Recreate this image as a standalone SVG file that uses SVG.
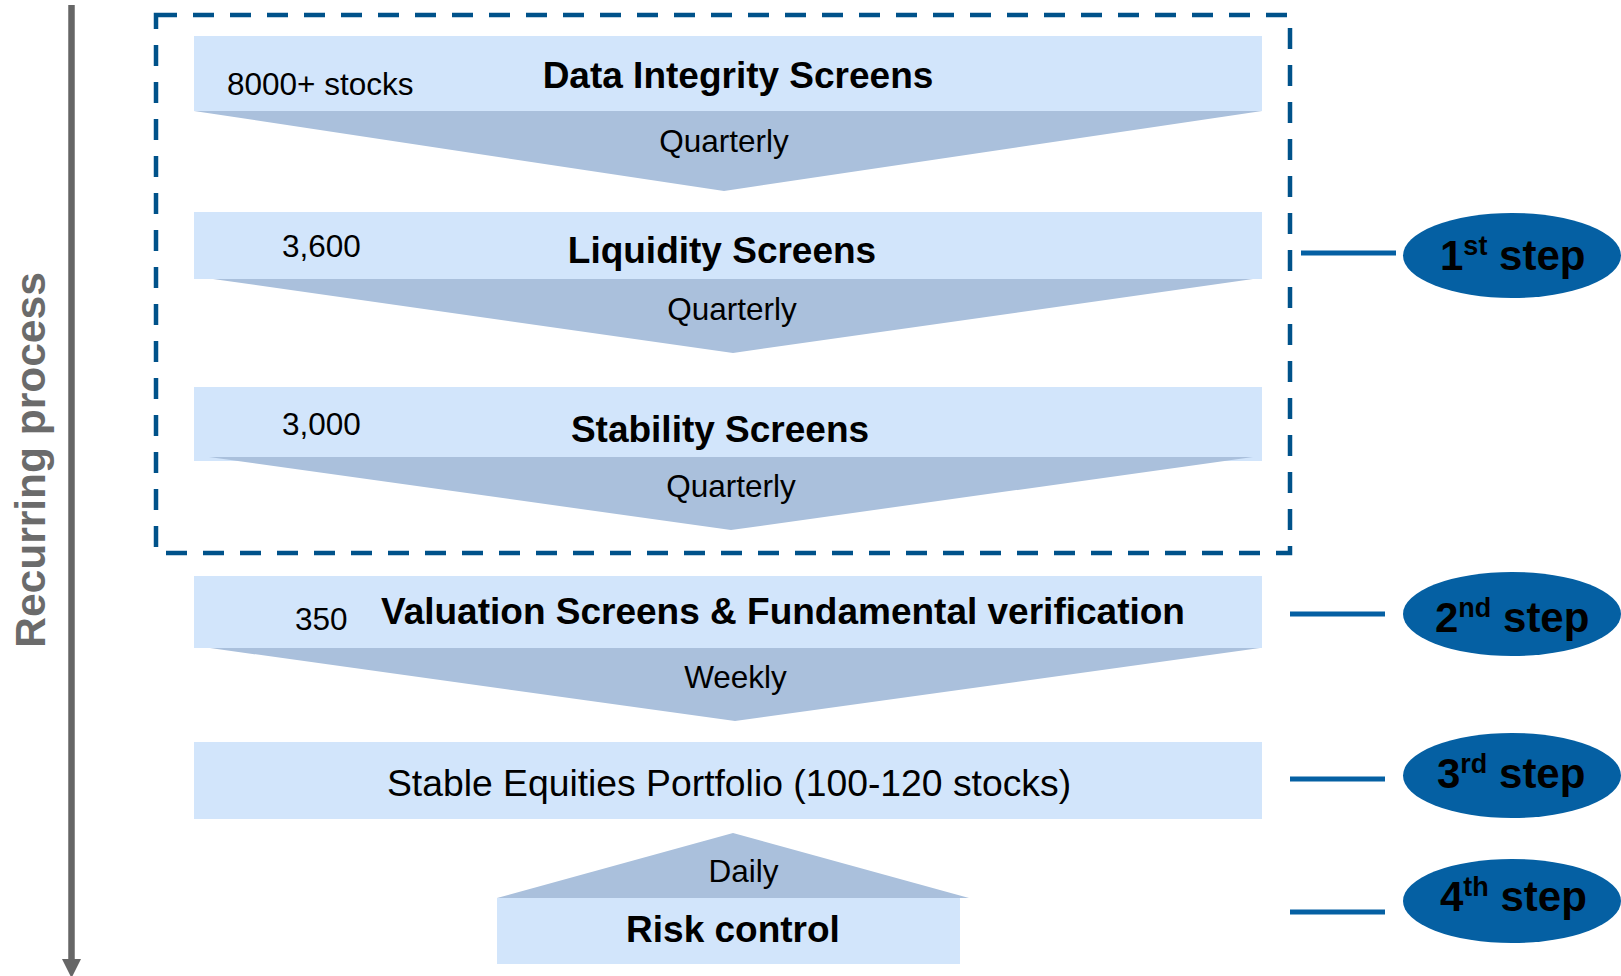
<svg xmlns="http://www.w3.org/2000/svg" width="1621" height="976" viewBox="0 0 1621 976">
<style>
.box{fill:#d2e5fb}
.tri{fill:#aac0dc}
.t{font-family:"Liberation Sans",Arial,sans-serif;fill:#000}
.n{font-size:31.5px}
.b{font-size:37px;font-weight:bold}
.m{font-size:37.3px}
.step{fill:#0560a3}
.conn{stroke:#0560a3;stroke-width:5;fill:none}
.st{font-family:"Liberation Sans",Arial,sans-serif;font-weight:bold;font-size:42px;fill:#000}
</style>
<rect width="1621" height="976" fill="#fff"/>
<g id="recurring">
<line x1="71.5" y1="5" x2="71.5" y2="962" stroke="#666" stroke-width="6.5"/>
<polygon points="62,959 81,959 71.5,978" fill="#666"/>
<text transform="translate(45,460) rotate(-90)" text-anchor="middle" font-family="Liberation Sans, Arial, sans-serif" font-size="42.5" font-weight="bold" fill="#6b6b6b">Recurring process</text>
</g>
<g id="dashed-group">
<rect x="156" y="15" width="1134" height="538" fill="none" stroke="#00528a" stroke-width="4.5" stroke-dasharray="21 16"/>
</g>
<g id="data-integrity">
<rect class="box" x="194" y="36" width="1068" height="75"/>
<polygon class="tri" points="194,111 1262,111 724,191"/>
<text class="t n" x="227" y="95">8000+ stocks</text>
<text class="t b" x="738" y="88" text-anchor="middle">Data Integrity Screens</text>
<text class="t n" x="724" y="152" text-anchor="middle">Quarterly</text>
</g>
<g id="liquidity">
<rect class="box" x="194" y="212" width="1068" height="67"/>
<polygon class="tri" points="213,279 1253,279 733,353"/>
<text class="t n" x="282" y="257">3,600</text>
<text class="t b" x="722" y="263" text-anchor="middle">Liquidity Screens</text>
<text class="t n" x="732" y="320" text-anchor="middle">Quarterly</text>
</g>
<g id="stability">
<rect class="box" x="194" y="387" width="1068" height="74"/>
<polygon class="tri" points="209,457 1253,457 731,530"/>
<text class="t n" x="282" y="435">3,000</text>
<text class="t b" x="720" y="442" text-anchor="middle">Stability Screens</text>
<text class="t n" x="731" y="497" text-anchor="middle">Quarterly</text>
</g>
<g id="valuation">
<rect class="box" x="194" y="576" width="1068" height="72"/>
<polygon class="tri" points="210,648 1260,648 735,721"/>
<text class="t n" x="295" y="630">350</text>
<text class="t b" x="381" y="624">Valuation Screens &amp; Fundamental verification</text>
<text class="t n" x="735.5" y="688" text-anchor="middle">Weekly</text>
</g>
<g id="portfolio">
<rect class="box" x="194" y="742" width="1068" height="77"/>
<text class="t m" x="729" y="796" text-anchor="middle">Stable Equities Portfolio (100-120 stocks)</text>
</g>
<g id="risk-control">
<polygon class="tri" points="497,898 969,898 733,833"/>
<rect class="box" x="497" y="898" width="463" height="66"/>
<text class="t n" x="743.5" y="882" text-anchor="middle">Daily</text>
<text class="t b" x="733" y="942" text-anchor="middle">Risk control</text>
</g>
<g id="connectors">
<line class="conn" x1="1301" y1="253" x2="1396" y2="253"/>
<line class="conn" x1="1290" y1="614" x2="1385" y2="614"/>
<line class="conn" x1="1290" y1="779" x2="1385" y2="779"/>
<line class="conn" x1="1290" y1="912" x2="1385" y2="912"/>
</g>
<g id="step1">
<ellipse class="step" cx="1512" cy="255.5" rx="109" ry="42.5"/>
<text class="st" x="1440" y="270">1<tspan font-size="27" dy="-15">st</tspan><tspan dy="15"> step</tspan></text>
</g>
<g id="step2">
<ellipse class="step" cx="1512" cy="614" rx="109" ry="42"/>
<text class="st" x="1435" y="632">2<tspan font-size="27" dy="-15">nd</tspan><tspan dy="15"> step</tspan></text>
</g>
<g id="step3">
<ellipse class="step" cx="1512" cy="775.5" rx="109" ry="42.5"/>
<text class="st" x="1437" y="788">3<tspan font-size="27" dy="-15">rd</tspan><tspan dy="15"> step</tspan></text>
</g>
<g id="step4">
<ellipse class="step" cx="1512" cy="901" rx="109" ry="42"/>
<text class="st" x="1440" y="911">4<tspan font-size="27" dy="-15">th</tspan><tspan dy="15"> step</tspan></text>
</g>
</svg>
